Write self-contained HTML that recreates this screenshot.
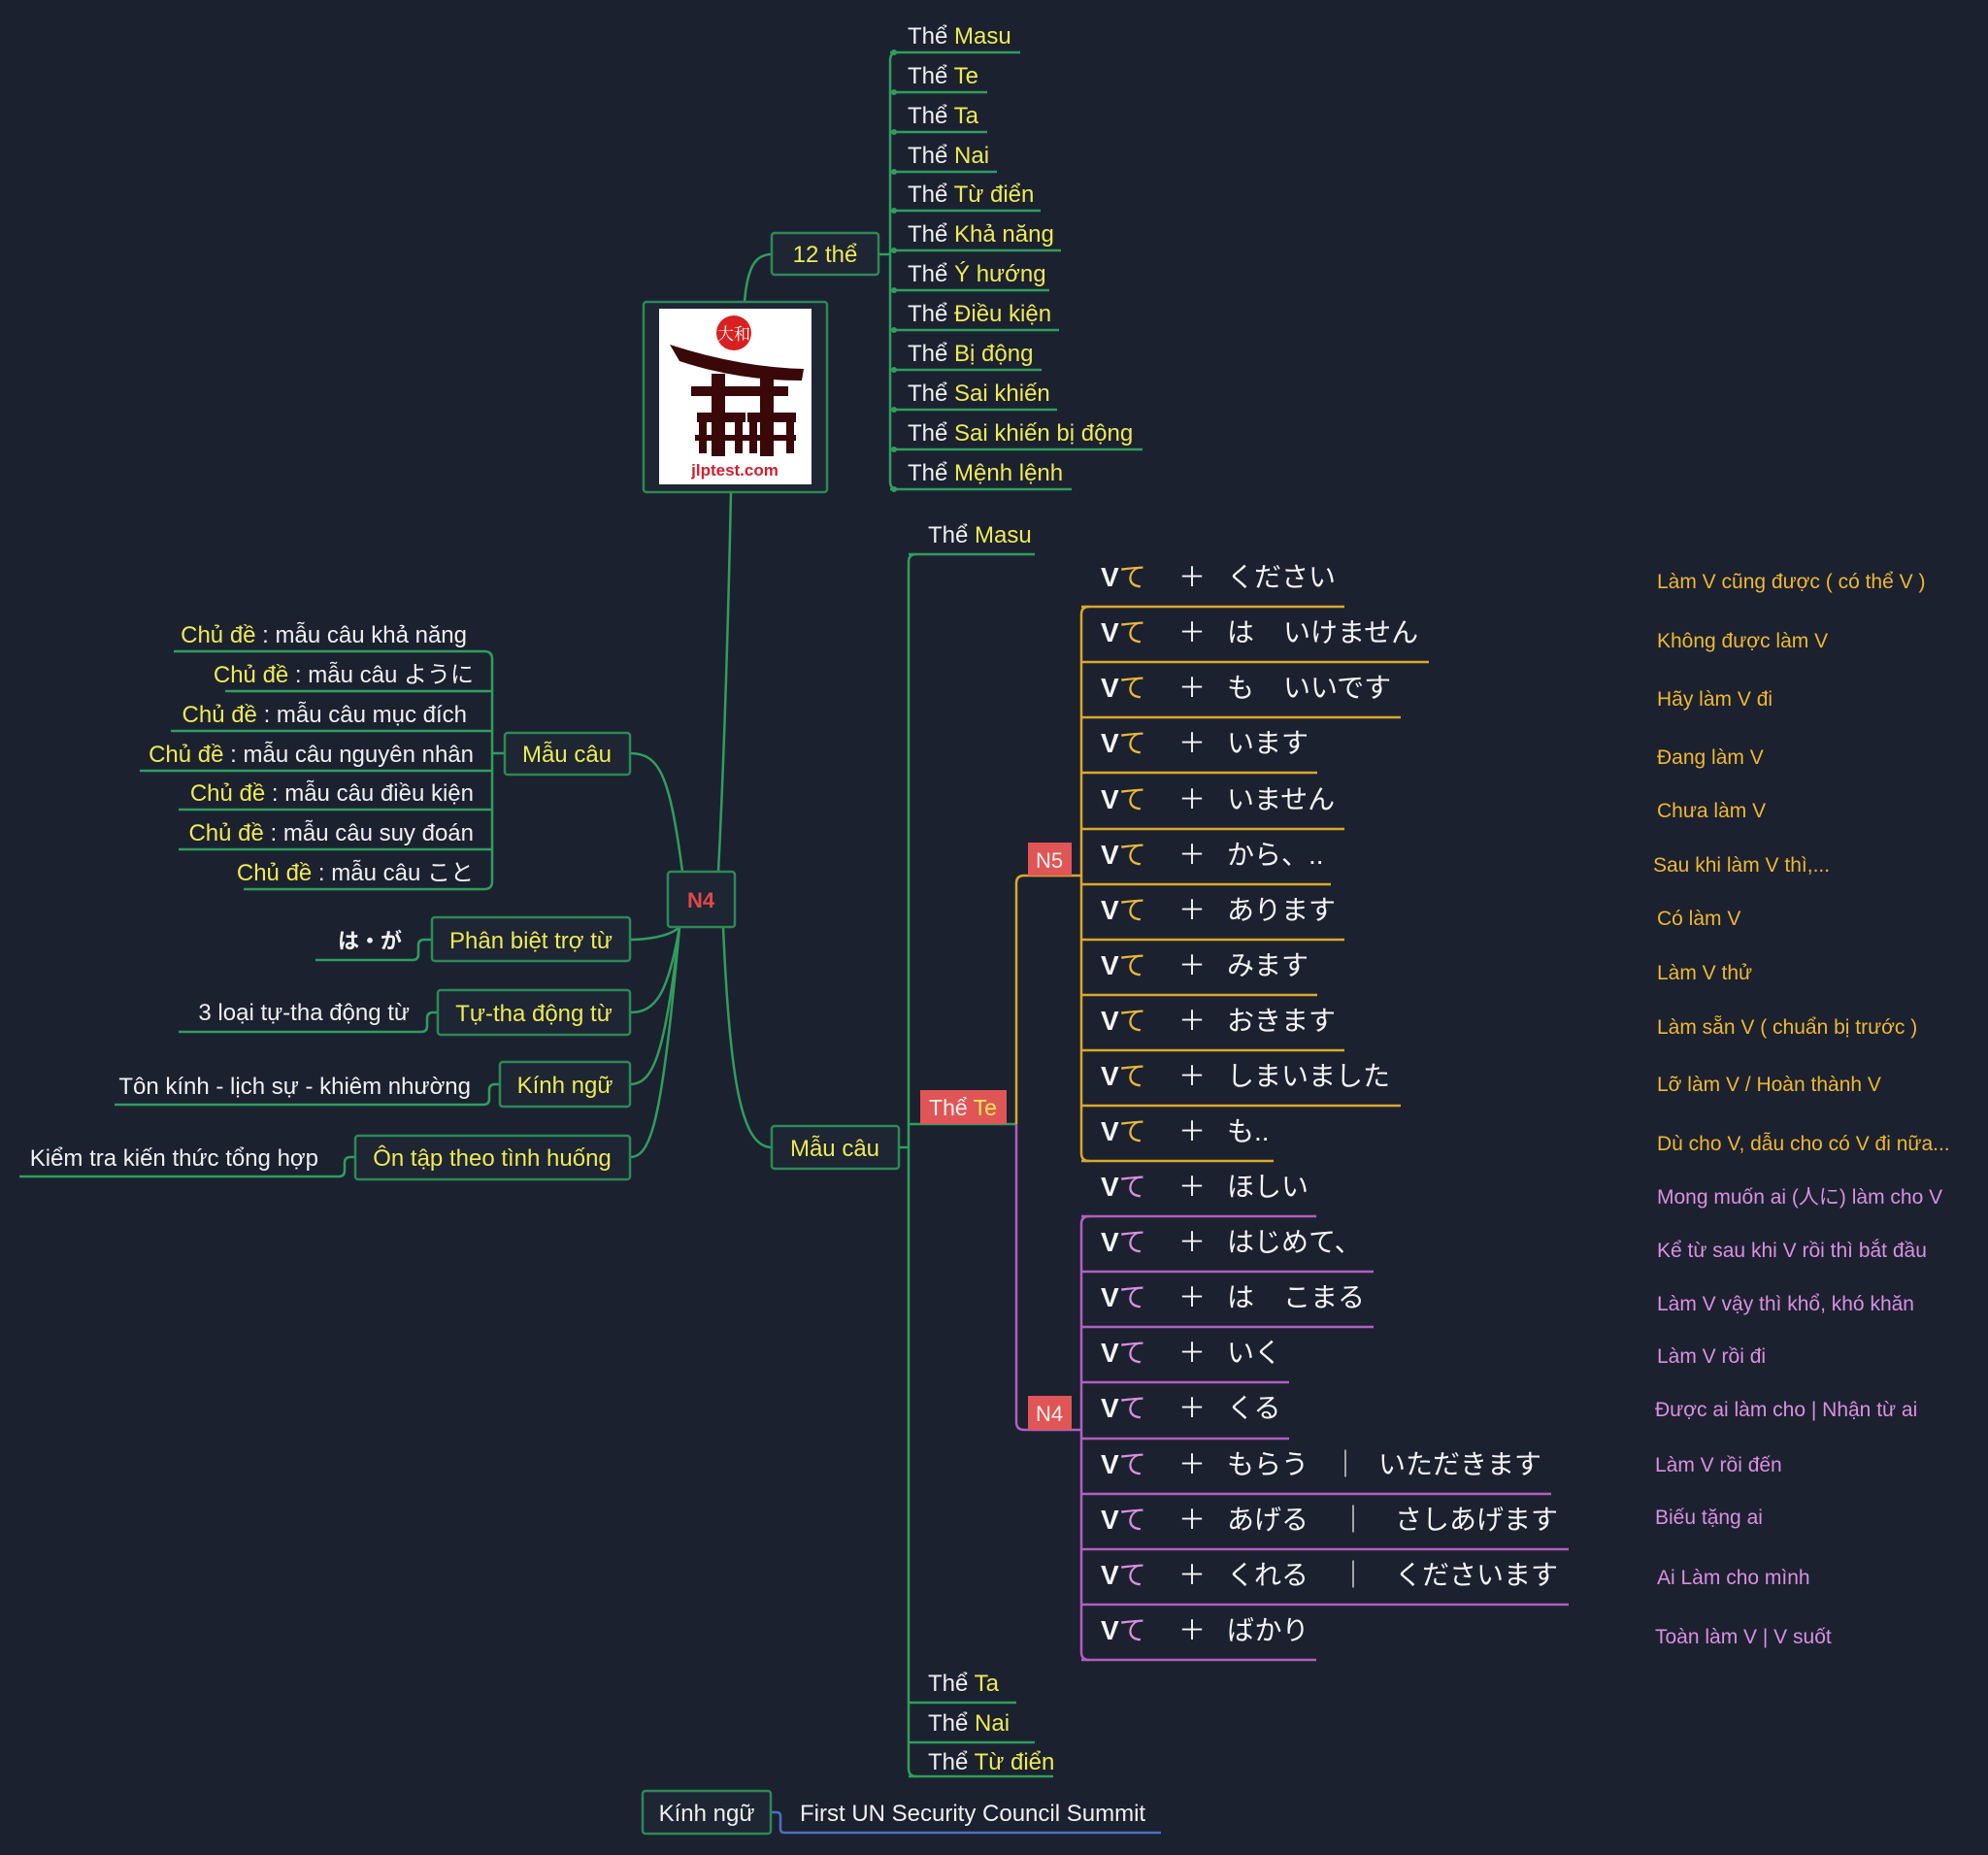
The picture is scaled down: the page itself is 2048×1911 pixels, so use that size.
<!DOCTYPE html>
<html><head><meta charset="utf-8"><style>
html,body{margin:0;padding:0;background:#1c2130;}
svg{display:block;}
text{font-family:"Liberation Sans","Noto Sans CJK JP",sans-serif;}
.w{fill:#f0f0f0;}
.y{fill:#eeea55;}
.jp{font-family:"Liberation Serif","Noto Serif CJK SC",serif;font-size:28px;fill:#f4f4f4;}
.ds{font-size:21px;}
</style></head><body>
<svg width="2048" height="1911" viewBox="0 0 2048 1911" xmlns="http://www.w3.org/2000/svg">
<rect width="2048" height="1911" fill="#1c2130"/>
<g fill="none" stroke="#2f9e5c" stroke-width="2.5">
<path d="M767 311 C770 275 778 262 795 262"/>
<path d="M753 507 C750 650 745 800 740 898"/>
<path d="M905 262 L917 262"/>
<path d="M925 54 Q917 54 917 62 L917 496 Q917 504 925 504"/>
<path d="M917 54H1051 M917 95H1017 M917 136H1017 M917 177H1027 M917 217H1072 M917 258H1093 M917 299H1081 M917 340H1091 M917 381H1073 M917 422H1089 M917 463H1177 M917 504H1104"/>
<path d="M179 671H499 Q507 671 507 679 L507 908 Q507 916 499 916 L251 916"/>
<path d="M232 712H507 M176 753H507 M144 794H507 M184 834H507 M184 875H507"/>
<path d="M507 776H520"/>
<path d="M703 898 C690 800 680 776 649 776"/>
<path d="M700 955 C690 965 665 968 649 968"/>
<path d="M700 955 C688 1025 675 1043 649 1043"/>
<path d="M700 955 C685 1090 672 1117 649 1117"/>
<path d="M700 955 C682 1160 670 1192 649 1192"/>
<path d="M325 989H425 Q431 989 431 983 L431 974 Q431 968 437 968 L445 968"/>
<path d="M184 1063H434 Q440 1063 440 1057 L440 1049 Q440 1043 446 1043 L451 1043"/>
<path d="M118 1138H498 Q504 1138 504 1132 L504 1123 Q504 1117 510 1117 L515 1117"/>
<path d="M20 1212H349 Q355 1212 355 1206 L355 1198 Q355 1192 361 1192 L366 1192"/>
<path d="M745 955 C752 1120 765 1182 795 1182"/>
<path d="M926 1182H936"/>
<path d="M944 571 Q936 571 936 579 L936 1822 Q936 1830 944 1830"/>
<path d="M936 571H1066 M936 1754H1047 M936 1795H1066 M936 1830H1085 M936 1158H1047"/>
</g>
<g fill="#2f9e5c">
<circle cx="921" cy="54" r="3"/><circle cx="921" cy="95" r="3"/><circle cx="921" cy="136" r="3"/><circle cx="921" cy="177" r="3"/><circle cx="921" cy="217" r="3"/><circle cx="921" cy="258" r="3"/><circle cx="921" cy="299" r="3"/><circle cx="921" cy="340" r="3"/><circle cx="921" cy="381" r="3"/><circle cx="921" cy="422" r="3"/><circle cx="921" cy="463" r="3"/><circle cx="921" cy="504" r="3"/>
</g>
<g fill="none" stroke="#d9a92a" stroke-width="2.5">
<path d="M1047 1158 L1047 910 Q1047 902 1055 902 L1114 902"/>
<path d="M1122 625 Q1114 625 1114 633 L1114 1188 Q1114 1196 1122 1196"/>
<path d="M1114 625H1385 M1114 682H1472 M1114 739H1443 M1114 796H1357 M1114 854H1385 M1114 911H1371 M1114 968H1385 M1114 1025H1357 M1114 1082H1385 M1114 1139H1443 M1114 1196H1312"/>
</g>
<g fill="none" stroke="#b060c0" stroke-width="2.5">
<path d="M1047 1158 L1047 1465 Q1047 1473 1055 1473 L1114 1473"/>
<path d="M1122 1253 Q1114 1253 1114 1261 L1114 1702 Q1114 1710 1122 1710"/>
<path d="M1114 1253H1356 M1114 1310H1415 M1114 1367H1415 M1114 1424H1328 M1114 1482H1328 M1114 1539H1598 M1114 1596H1616 M1114 1653H1616 M1114 1710H1356"/>
</g>
<path d="M794 1867 H800 Q804 1867 804 1871 L804 1884 Q804 1888 808 1888 L1196 1888" fill="none" stroke="#4a6fc0" stroke-width="2.5"/>
<g fill="#1e2533" stroke="#2b8a55" stroke-width="2.5">
<rect x="663" y="311" width="189" height="196" rx="3"/>
<rect x="795" y="240" width="110" height="43" rx="3"/>
<rect x="688" y="898" width="69" height="57" rx="3"/>
<rect x="520" y="755" width="129" height="43" rx="3"/>
<rect x="445" y="945" width="204" height="45" rx="3"/>
<rect x="451" y="1020" width="198" height="46" rx="3"/>
<rect x="515" y="1094" width="134" height="46" rx="3"/>
<rect x="366" y="1170" width="283" height="45" rx="3"/>
<rect x="795" y="1160" width="131" height="44" rx="3"/>
<rect x="662" y="1845" width="132" height="44" rx="3"/>
</g>
<rect x="679" y="318" width="157" height="181" fill="#ffffff"/>
<circle cx="756" cy="343" r="18" fill="#d82020"/>
<text x="756" y="350" text-anchor="middle" font-size="17" fill="#fff" style="font-family:'Noto Serif CJK SC',serif">大和</text>
<g fill="#3a0808">
<path d="M690 355 Q760 378 828 380 L826 392 Q760 392 700 372 Z"/>
<rect x="712" y="398" width="100" height="10"/>
<rect x="733" y="385" width="14" height="85"/>
<rect x="783" y="385" width="14" height="85"/>
<rect x="718" y="425" width="50" height="10"/><rect x="770" y="425" width="50" height="10"/>
<rect x="720" y="425" width="8" height="42"/><rect x="757" y="425" width="8" height="42"/>
<rect x="772" y="425" width="8" height="42"/><rect x="810" y="425" width="8" height="42"/>
<rect x="716" y="448" width="104" height="6"/>
</g>
<text x="757" y="490" text-anchor="middle" font-size="17" font-weight="bold" fill="#d02030">jlptest.com</text>
<text x="850" y="270" text-anchor="middle" font-size="24" class="y">12 thể</text>
<text x="722" y="935" text-anchor="middle" font-size="22" font-weight="bold" fill="#e04848">N4</text>
<text x="584" y="785" text-anchor="middle" font-size="24" class="y">Mẫu câu</text>
<text x="547" y="977" text-anchor="middle" font-size="24" class="y">Phân biệt trợ từ</text>
<text x="550" y="1052" text-anchor="middle" font-size="24" class="y">Tự-tha động từ</text>
<text x="582" y="1126" text-anchor="middle" font-size="24" class="y">Kính ngữ</text>
<text x="507" y="1201" text-anchor="middle" font-size="24" class="y">Ôn tập theo tình huống</text>
<text x="860" y="1191" text-anchor="middle" font-size="24" class="y">Mẫu câu</text>
<text x="728" y="1876" text-anchor="middle" font-size="24" class="w">Kính ngữ</text>
<text x="824" y="1876" font-size="24" class="w">First UN Security Council Summit</text>
<g font-size="24" class="w">
<text x="935" y="45">Thể <tspan class="y">Masu</tspan></text>
<text x="935" y="86">Thể <tspan class="y">Te</tspan></text>
<text x="935" y="127">Thể <tspan class="y">Ta</tspan></text>
<text x="935" y="168">Thể <tspan class="y">Nai</tspan></text>
<text x="935" y="208">Thể <tspan class="y">Từ điển</tspan></text>
<text x="935" y="249">Thể <tspan class="y">Khả năng</tspan></text>
<text x="935" y="290">Thể <tspan class="y">Ý hướng</tspan></text>
<text x="935" y="331">Thể <tspan class="y">Điều kiện</tspan></text>
<text x="935" y="372">Thể <tspan class="y">Bị động</tspan></text>
<text x="935" y="413">Thể <tspan class="y">Sai khiến</tspan></text>
<text x="935" y="454">Thể <tspan class="y">Sai khiến bị động</tspan></text>
<text x="935" y="495">Thể <tspan class="y">Mệnh lệnh</tspan></text>
<text x="956" y="559">Thể <tspan class="y">Masu</tspan></text>
<text x="956" y="1742">Thể <tspan class="y">Ta</tspan></text>
<text x="956" y="1783">Thể <tspan class="y">Nai</tspan></text>
<text x="956" y="1823">Thể <tspan class="y">Từ điển</tspan></text>
</g>
<g font-size="24" class="w" text-anchor="end">
<text x="481" y="662"><tspan class="y">Chủ đề</tspan> : mẫu câu khả năng</text>
<text x="488" y="703"><tspan class="y">Chủ đề</tspan> : mẫu câu ように</text>
<text x="481" y="744"><tspan class="y">Chủ đề</tspan> : mẫu câu mục đích</text>
<text x="488" y="785"><tspan class="y">Chủ đề</tspan> : mẫu câu nguyên nhân</text>
<text x="488" y="825"><tspan class="y">Chủ đề</tspan> : mẫu câu điều kiện</text>
<text x="488" y="866"><tspan class="y">Chủ đề</tspan> : mẫu câu suy đoán</text>
<text x="488" y="907"><tspan class="y">Chủ đề</tspan> : mẫu câu こと</text>
<text x="414" y="977" font-weight="bold" font-size="22">は・が</text>
<text x="422" y="1051">3 loại tự-tha động từ</text>
<text x="485" y="1127">Tôn kính - lịch sự - khiêm nhường</text>
<text x="328" y="1201">Kiểm tra kiến thức tổng hợp</text>
</g>
<rect x="948" y="1123" width="89" height="35" fill="#e05555"/>
<text x="992" y="1149" text-anchor="middle" font-size="23" class="w">Thể <tspan class="y">Te</tspan></text>
<rect x="1059" y="868" width="45" height="34" fill="#e05555"/>
<text x="1081" y="894" text-anchor="middle" font-size="22" class="w">N5</text>
<rect x="1059" y="1438" width="45" height="35" fill="#e05555"/>
<text x="1081" y="1464" text-anchor="middle" font-size="22" class="w">N4</text>
<g class="jp">
<text x="1134" y="604"><tspan font-weight="bold">V</tspan><tspan fill="#e9b83a">て</tspan></text><text x="1214" y="604">＋</text><text x="1264" y="604">ください</text>
<text x="1134" y="661"><tspan font-weight="bold">V</tspan><tspan fill="#e9b83a">て</tspan></text><text x="1214" y="661">＋</text><text x="1264" y="661">は</text><text x="1322" y="661">いけません</text>
<text x="1134" y="718"><tspan font-weight="bold">V</tspan><tspan fill="#e9b83a">て</tspan></text><text x="1214" y="718">＋</text><text x="1264" y="718">も</text><text x="1322" y="718">いいです</text>
<text x="1134" y="775"><tspan font-weight="bold">V</tspan><tspan fill="#e9b83a">て</tspan></text><text x="1214" y="775">＋</text><text x="1264" y="775">います</text>
<text x="1134" y="833"><tspan font-weight="bold">V</tspan><tspan fill="#e9b83a">て</tspan></text><text x="1214" y="833">＋</text><text x="1264" y="833">いません</text>
<text x="1134" y="890"><tspan font-weight="bold">V</tspan><tspan fill="#e9b83a">て</tspan></text><text x="1214" y="890">＋</text><text x="1264" y="890">から、..</text>
<text x="1134" y="947"><tspan font-weight="bold">V</tspan><tspan fill="#e9b83a">て</tspan></text><text x="1214" y="947">＋</text><text x="1264" y="947">あります</text>
<text x="1134" y="1004"><tspan font-weight="bold">V</tspan><tspan fill="#e9b83a">て</tspan></text><text x="1214" y="1004">＋</text><text x="1264" y="1004">みます</text>
<text x="1134" y="1061"><tspan font-weight="bold">V</tspan><tspan fill="#e9b83a">て</tspan></text><text x="1214" y="1061">＋</text><text x="1264" y="1061">おきます</text>
<text x="1134" y="1118"><tspan font-weight="bold">V</tspan><tspan fill="#e9b83a">て</tspan></text><text x="1214" y="1118">＋</text><text x="1264" y="1118">しまいました</text>
<text x="1134" y="1175"><tspan font-weight="bold">V</tspan><tspan fill="#e9b83a">て</tspan></text><text x="1214" y="1175">＋</text><text x="1264" y="1175">も..</text>
<text x="1134" y="1232"><tspan font-weight="bold">V</tspan><tspan fill="#d990e0">て</tspan></text><text x="1214" y="1232">＋</text><text x="1264" y="1232">ほしい</text>
<text x="1134" y="1289"><tspan font-weight="bold">V</tspan><tspan fill="#d990e0">て</tspan></text><text x="1214" y="1289">＋</text><text x="1264" y="1289">はじめて、</text>
<text x="1134" y="1346"><tspan font-weight="bold">V</tspan><tspan fill="#d990e0">て</tspan></text><text x="1214" y="1346">＋</text><text x="1264" y="1346">は</text><text x="1322" y="1346">こまる</text>
<text x="1134" y="1403"><tspan font-weight="bold">V</tspan><tspan fill="#d990e0">て</tspan></text><text x="1214" y="1403">＋</text><text x="1264" y="1403">いく</text>
<text x="1134" y="1460"><tspan font-weight="bold">V</tspan><tspan fill="#d990e0">て</tspan></text><text x="1214" y="1460">＋</text><text x="1264" y="1460">くる</text>
<text x="1134" y="1518"><tspan font-weight="bold">V</tspan><tspan fill="#d990e0">て</tspan></text><text x="1214" y="1518">＋</text><text x="1264" y="1518">もらう</text><text x="1372" y="1518">｜</text><text x="1420" y="1518">いただきます</text>
<text x="1134" y="1575"><tspan font-weight="bold">V</tspan><tspan fill="#d990e0">て</tspan></text><text x="1214" y="1575">＋</text><text x="1264" y="1575">あげる</text><text x="1380" y="1575">｜</text><text x="1437" y="1575">さしあげます</text>
<text x="1134" y="1632"><tspan font-weight="bold">V</tspan><tspan fill="#d990e0">て</tspan></text><text x="1214" y="1632">＋</text><text x="1264" y="1632">くれる</text><text x="1380" y="1632">｜</text><text x="1437" y="1632">くださいます</text>
<text x="1134" y="1689"><tspan font-weight="bold">V</tspan><tspan fill="#d990e0">て</tspan></text><text x="1214" y="1689">＋</text><text x="1264" y="1689">ばかり</text>
</g>
<g class="ds" fill="#eeb830">
<text x="1707" y="606">Làm V cũng được ( có thể V )</text>
<text x="1707" y="667">Không được làm V</text>
<text x="1707" y="727">Hãy làm V đi</text>
<text x="1707" y="787">Đang làm V</text>
<text x="1707" y="842">Chưa làm V</text>
<text x="1703" y="898">Sau khi làm V thì,...</text>
<text x="1707" y="953">Có làm V</text>
<text x="1707" y="1009">Làm V thử</text>
<text x="1707" y="1065">Làm sẵn V ( chuẩn bị trước )</text>
<text x="1707" y="1124">Lỡ làm V / Hoàn thành V</text>
<text x="1707" y="1185">Dù cho V, dẫu cho có V đi nữa...</text>
</g>
<g class="ds" fill="#d990e0">
<text x="1707" y="1240">Mong muốn ai (人に) làm cho V</text>
<text x="1707" y="1295">Kể từ sau khi V rồi thì bắt đầu</text>
<text x="1707" y="1350">Làm V vậy thì khổ, khó khăn</text>
<text x="1707" y="1404">Làm V rồi đi</text>
<text x="1705" y="1459">Được ai làm cho | Nhận từ ai</text>
<text x="1705" y="1516">Làm V rồi đến</text>
<text x="1705" y="1570">Biếu tặng ai</text>
<text x="1707" y="1632">Ai Làm cho mình</text>
<text x="1705" y="1693">Toàn làm V  |  V suốt</text>
</g>
</svg>
</body></html>
